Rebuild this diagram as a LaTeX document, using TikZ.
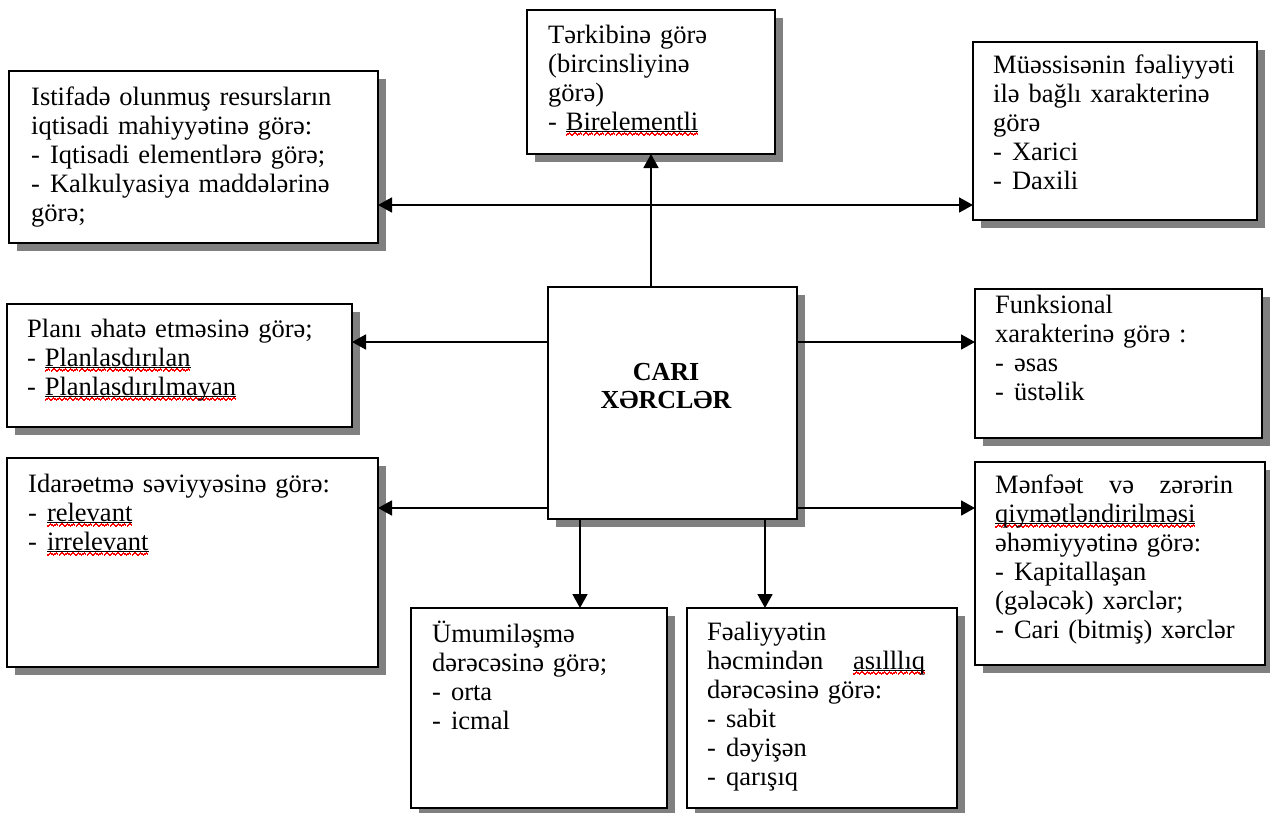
\documentclass[tikz,border=0pt]{standalone}
\usepackage{fontspec}
\setmainfont{Liberation Serif}
\usetikzlibrary{arrows.meta,shadows}
\newcommand\dd{-\hspace{10pt}}
\newcommand\mainsize{\fontsize{26.5}{29}\selectfont}
% one period of a small red zigzag, built from rules
\newcommand\wvunit{\hbox{%
  \vrule height -4.4pt depth 5.6pt width 1.35pt
  \vrule height -3.4pt depth 4.6pt width 1.35pt
  \vrule height -2.4pt depth 3.6pt width 1.35pt
  \vrule height -3.4pt depth 4.6pt width 1.35pt}}
% black underline plus red wavy (spell-check) line under a word
\newcommand\wv[1]{\leavevmode\setbox0\hbox{#1}%
  \rlap{\vrule height -0.7pt depth 1.8pt width \wd0}%
  \rlap{\hbox to \wd0{\color{red}\xleaders\wvunit\hfill}}%
  \box0}
\begin{document}
\begin{tikzpicture}[x=1pt,y=-1pt,
  box/.style={draw,line width=2.2pt,fill=white,anchor=north west,inner sep=0pt,outer sep=0pt,
    drop shadow={shadow xshift=8pt,shadow yshift=-8pt,fill=black!50,opacity=1}},
  txt/.style={anchor=base west,inner sep=0pt,text width=330pt,align=left,font=\mainsize},
  conn/.style={line width=1.8pt},
  arr/.style={-{Triangle[length=14pt,width=15pt]}},
  barr/.style={{Triangle[length=14pt,width=15pt]}-{Triangle[length=14pt,width=15pt]}}]
\useasboundingbox (0,0) rectangle (1270,812);

\node[box,minimum width=369pt,minimum height=172pt] (b1) at (9,71) {};
\node[txt] (t1) at (31,105) {Istifadə olunmuş resursların\\iqtisadi mahiyyətinə görə:\\\dd Iqtisadi elementlərə görə;\\\dd Kalkulyasiya maddələrinə\\görə;};

\node[box,minimum width=248pt,minimum height=144pt] (b2) at (527,10) {};
\node[txt] (t2) at (548,43) {Tərkibinə görə\\(bircinsliyinə\\görə)\\- \wv{Birelementli}};

\node[box,minimum width=284pt,minimum height=178pt] (b3) at (973,42) {};
\node[txt] (t3) at (993,73) {Müəssisənin fəaliyyəti\\ilə bağlı xarakterinə\\görə\\\dd Xarici\\\dd Daxili};

\node[box,minimum width=345pt,minimum height=123pt] (b4) at (7,304) {};
\node[txt] (t4) at (27,337) {Planı əhatə etməsinə görə;\\- \wv{Planlasdırılan}\\- \wv{Planlasdırılmayan}};

\node[box,minimum width=287pt,minimum height=149pt] (b5) at (975,289) {};
\node[txt] (t5) at (995,313) {Funksional\\xarakterinə görə :\\\dd əsas\\\dd üstəlik};

\node[box,minimum width=290pt,minimum height=203pt] (b6) at (975,462) {};
\node[txt] (t6) at (995,493) {\leavevmode\hbox to 238pt{Mənfəət\hfill və\hfill zərərin}\\\wv{qiymətləndirilməsi}\\əhəmiyyətinə görə:\\\dd Kapitallaşan\\(gələcək) xərclər;\\\dd Cari (bitmiş) xərclər};

\node[box,minimum width=371pt,minimum height=209pt] (b7) at (7,458) {};
\node[txt] (t7) at (28,492) {Idarəetmə səviyyəsinə görə:\\\dd \wv{relevant}\\\dd \wv{irrelevant}};

\node[box,minimum width=249pt,minimum height=232pt] (bc) at (548,287) {};
\node[anchor=base,inner sep=0pt,text width=240pt,align=center,
  font=\fontsize{26}{28}\selectfont\bfseries] (tc) at (666,380) {CARI\\XƏRCLƏR};

\node[box,minimum width=256pt,minimum height=200pt] (b9) at (411,608) {};
\node[txt] (t9) at (432,642) {Ümumiləşmə\\dərəcəsinə görə;\\\dd orta\\\dd icmal};

\node[box,minimum width=270pt,minimum height=200pt] (b10) at (687,608) {};
\node[txt] (t10) at (707,640) {Fəaliyyətin\\\leavevmode\hbox to 218pt{həcmindən\hfill\wv{asılllıq}}\\dərəcəsinə görə:\\\dd sabit\\\dd dəyişən\\\dd qarışıq};

\coordinate (hy) at (650,205);
\coordinate (l1) at (0,342);
\coordinate (l2) at (0,508);
\coordinate (d1) at (580,0);
\coordinate (d2) at (765,0);

\draw[conn,barr] (b1.east |- hy) -- (b3.west |- hy);
\draw[conn,arr] (b2.south |- bc.north) -- (b2.south);
\draw[conn,arr] (bc.west |- l1) -- (b4.east |- l1);
\draw[conn,arr] (bc.west |- l2) -- (b7.east |- l2);
\draw[conn,arr] (bc.east |- l1) -- (b5.west |- l1);
\draw[conn,arr] (bc.east |- l2) -- (b6.west |- l2);
\draw[conn,arr] (bc.south -| d1) -- (b9.north -| d1);
\draw[conn,arr] (bc.south -| d2) -- (b10.north -| d2);
\end{tikzpicture}
\end{document}
